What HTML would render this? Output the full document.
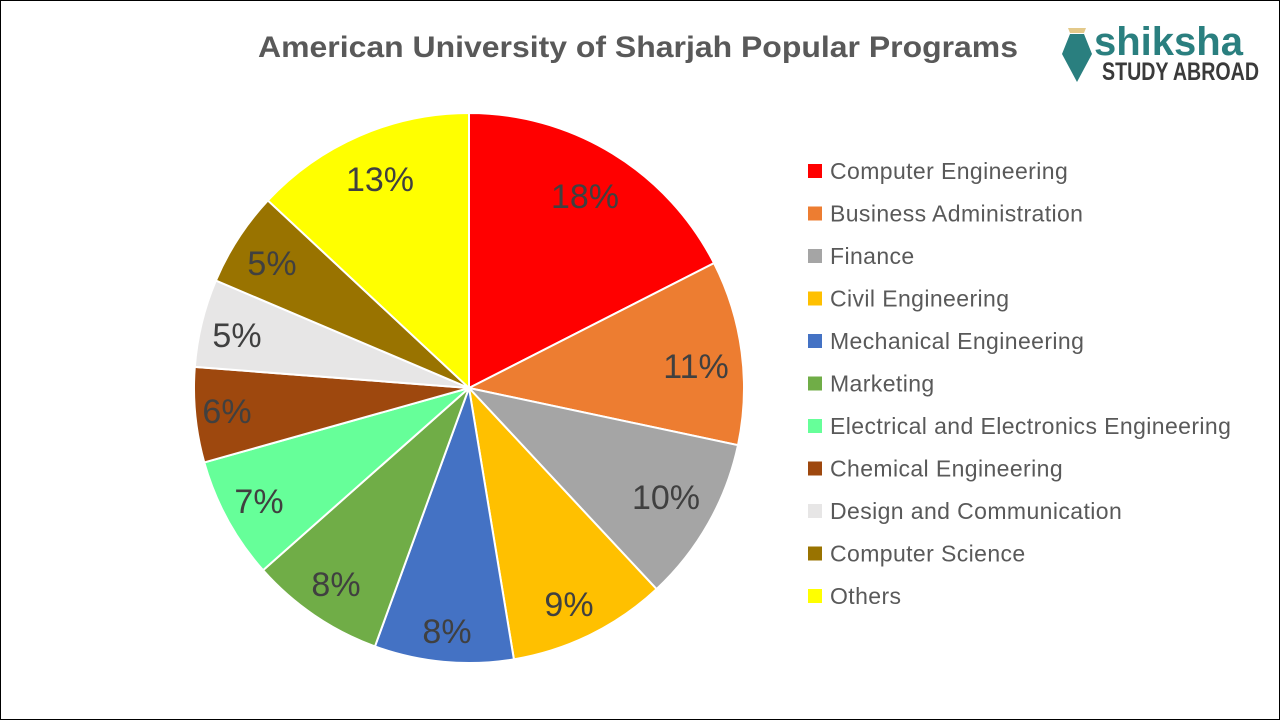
<!DOCTYPE html>
<html><head><meta charset="utf-8"><style>
body{margin:0;width:1280px;height:720px;background:#fff;overflow:hidden}
svg{display:block}
text{font-family:"Liberation Sans",sans-serif}
</style></head><body>
<svg id="s" width="1280" height="720" viewBox="0 0 1280 720">
<rect x="0.5" y="0.5" width="1279" height="719" fill="#fff" stroke="#000" stroke-width="1"/>
<text x="258" y="57" font-size="30" font-weight="bold" fill="#595959" textLength="760" lengthAdjust="spacingAndGlyphs">American University of Sharjah Popular Programs</text>
<g id="pie"></g>
<g font-size="34" fill="#404040" text-anchor="middle">
<text x="585" y="208">18%</text>
<text x="696" y="378">11%</text>
<text x="666" y="509">10%</text>
<text x="569" y="616">9%</text>
<text x="447" y="643">8%</text>
<text x="336" y="596">8%</text>
<text x="259" y="513">7%</text>
<text x="227" y="423">6%</text>
<text x="237" y="347">5%</text>
<text x="272" y="275">5%</text>
<text x="380" y="191">13%</text>
</g>
<g id="leg" font-size="23" fill="#595959" letter-spacing="0.4"></g>
<g>
<path d="M1068 28 h18 l-2 5 h-14z" fill="#e3c98a"/>
<path d="M1070 34 h14 l8 20 l-15 28 l-15 -28z" fill="#2a7f7f"/>
<text x="1094" y="55" font-size="40" font-weight="bold" fill="#2a7f7f">shiksha</text>
<text x="1102" y="80" font-size="25" font-weight="bold" fill="#3a3a3a" textLength="157" lengthAdjust="spacingAndGlyphs">STUDY ABROAD</text>
</g>
</svg>
<script>
var cx=469,cy=388,r=275;
var a=[0,63,102,137,170.6,200,228.5,254.3,274.4,293,313,360];
var c=["#ff0000","#ed7d31","#a5a5a5","#ffc000","#4472c4","#70ad47","#66ff99","#9e480e","#e7e6e6","#997300","#ffff00"];
var n=["Computer Engineering","Business Administration","Finance","Civil Engineering","Mechanical Engineering","Marketing","Electrical and Electronics Engineering","Chemical Engineering","Design and Communication","Computer Science","Others"];
function p(d){var t=d*Math.PI/180;return [cx+r*Math.sin(t),cy-r*Math.cos(t)];}
var h="";
for(var i=0;i<11;i++){var s=p(a[i]),e=p(a[i+1]);var l=(a[i+1]-a[i])>180?1:0;
h+='<path d="M'+cx+' '+cy+' L'+s[0]+' '+s[1]+' A'+r+' '+r+' 0 '+l+' 1 '+e[0]+' '+e[1]+'Z" fill="'+c[i]+'" stroke="#fff" stroke-width="2"/>';}
document.getElementById("pie").innerHTML=h;
var g="";
for(var i=0;i<11;i++){var y=171+i*42.5;
g+='<rect x="808" y="'+(y-7)+'" width="14" height="14" fill="'+c[i]+'"/><text x="830" y="'+(y+8)+'">'+n[i]+'</text>';}
document.getElementById("leg").innerHTML=g;
</script>
</body></html>
